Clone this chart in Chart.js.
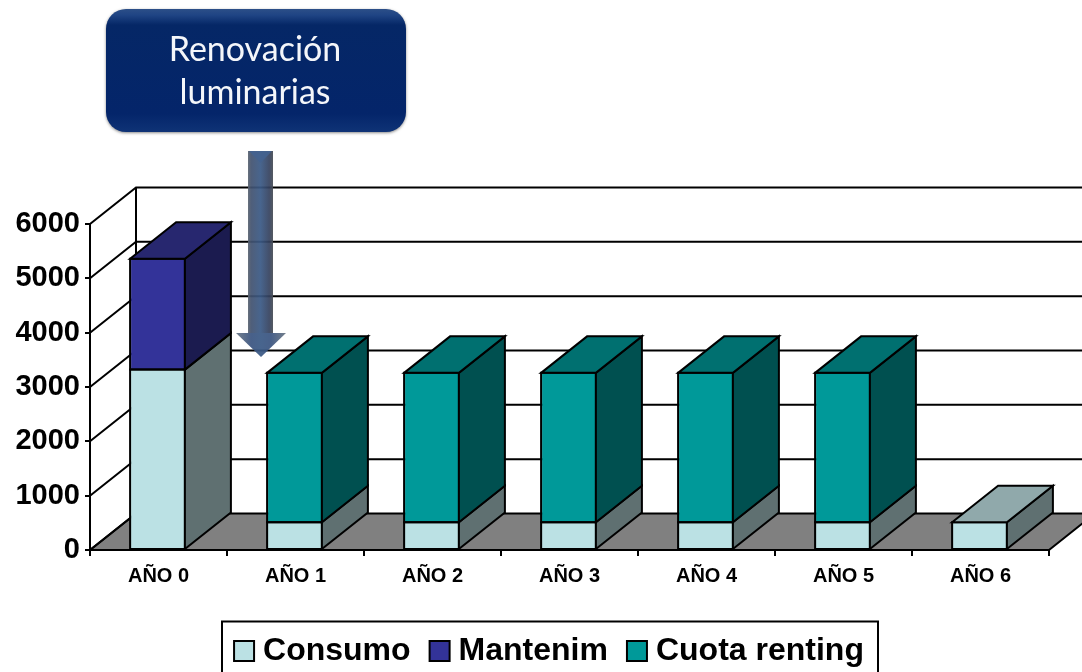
<!DOCTYPE html>
<html>
<head>
<meta charset="utf-8">
<script src="https://cdn.jsdelivr.net/npm/chart.js@4/dist/chart.umd.min.js"></script>
<style>
  html, body { margin: 0; padding: 0; background: #fff; overflow: hidden; }
  canvas { display: block; }
</style>
</head>
<body>
<canvas id="chart" width="1082" height="672"></canvas>
<script>
var years = ['AÑO 0', 'AÑO 1', 'AÑO 2', 'AÑO 3', 'AÑO 4', 'AÑO 5', 'AÑO 6'];
var consumo = [3320, 510, 510, 510, 510, 510, 510];
var mantenim = [2040, 0, 0, 0, 0, 0, 0];
var cuota = [0, 2750, 2750, 2750, 2750, 2750, 0];
var yTicks = [0, 1000, 2000, 3000, 4000, 5000, 6000];
var calloutLines = ['Renovación', 'luminarias'];

var DEPTH_X = 46;
var DEPTH_Y = -36.5;
var faces = [
  { side: '#5f7071', top: '#90a9ab' },
  { side: '#1b1b4f', top: '#27276f' },
  { side: '#005050', top: '#007070' }
];

function poly(ctx, pts, fill) {
  ctx.beginPath();
  pts.forEach(function (p, i) {
    if (i == 0) ctx.moveTo(p[0], p[1]); else ctx.lineTo(p[0], p[1]);
  });
  ctx.closePath();
  if (fill) { ctx.fillStyle = fill; ctx.fill(); }
  ctx.stroke();
}

// back wall, left wall and floor of the 3d box
var walls = {
  id: 'walls',
  beforeDatasetsDraw: function (chart) {
    var ctx = chart.ctx, area = chart.chartArea, y = chart.scales.y;
    var W = chart.width;
    var left = area.left, right = area.right, base = y.getPixelForValue(0);
    ctx.save();
    ctx.strokeStyle = '#000';
    ctx.lineWidth = 2;
    poly(ctx, [[left, base], [left + DEPTH_X, base + DEPTH_Y], [W + 5, base + DEPTH_Y],
      [W + 5, base + (W + 5 - right) * DEPTH_Y / DEPTH_X], [right, base]], '#808080');
    yTicks.forEach(function (t) {
      var py = y.getPixelForValue(t);
      ctx.beginPath();
      ctx.moveTo(left, py);
      ctx.lineTo(left + DEPTH_X, py + DEPTH_Y);
      if (t > 0) ctx.lineTo(W, py + DEPTH_Y);
      ctx.stroke();
    });
    ctx.beginPath();
    ctx.moveTo(left + DEPTH_X, y.getPixelForValue(6000) + DEPTH_Y);
    ctx.lineTo(left + DEPTH_X, base + DEPTH_Y);
    ctx.stroke();
    ctx.restore();
  }
};

// outline, side and top faces of every bar segment
var bars3d = {
  id: 'bars3d',
  afterDatasetsDraw: function (chart) {
    var ctx = chart.ctx;
    var sets = chart.data.datasets;
    ctx.save();
    ctx.strokeStyle = '#000';
    ctx.lineWidth = 2;
    ctx.lineJoin = 'miter';
    years.forEach(function (yr, j) {
      sets.forEach(function (ds, i) {
        if (!ds.data[j]) return;
        var b = chart.getDatasetMeta(i).data[j];
        var l = b.x - b.width / 2 - 1, r = b.x + b.width / 2 - 1;
        poly(ctx, [[l, b.base], [l, b.y], [r, b.y], [r, b.base]]);
        poly(ctx, [[r, b.base], [r + DEPTH_X, b.base + DEPTH_Y], [r + DEPTH_X, b.y + DEPTH_Y], [r, b.y]], faces[i].side);
        var covered = sets.slice(i + 1).some(function (up) { return up.data[j] > 0; });
        if (!covered) {
          poly(ctx, [[l, b.y], [l + DEPTH_X, b.y + DEPTH_Y], [r + DEPTH_X, b.y + DEPTH_Y], [r, b.y]], faces[i].top);
        }
      });
    });
    ctx.restore();
  }
};

// legend sits lower than chart.js would put it, with a frame round it
var legendBox = {
  id: 'legendBox',
  afterLayout: function (chart) {
    var lg = chart.legend;
    lg.left += 28;
    lg.right += 28;
    lg.top = 609;
    lg.bottom = 699;
    lg.adjustHitBoxes();
  },
  afterDraw: function (chart) {
    var ctx = chart.ctx;
    ctx.save();
    ctx.strokeStyle = '#000';
    ctx.lineWidth = 2;
    ctx.strokeRect(222, 621.5, 656, 54);
    ctx.restore();
  }
};

// the arrow and the rounded callout above the chart
var callout = {
  id: 'callout',
  afterDraw: function (chart) {
    var ctx = chart.ctx;
    ctx.save();

    var sg = ctx.createLinearGradient(248, 0, 273, 0);
    sg.addColorStop(0, '#5d6672');
    sg.addColorStop(0.12, '#42526f');
    sg.addColorStop(0.5, '#3a5985');
    sg.addColorStop(0.85, '#35425f');
    sg.addColorStop(1, '#484d55');
    ctx.globalAlpha = 0.93;
    ctx.fillStyle = sg;
    ctx.fillRect(248, 151, 25, 182);
    ctx.fillStyle = '#44628f';
    ctx.beginPath();
    ctx.moveTo(249, 151);
    ctx.lineTo(272, 151);
    ctx.lineTo(260.5, 163);
    ctx.closePath();
    ctx.fill();
    var hg = ctx.createLinearGradient(236, 0, 286, 0);
    hg.addColorStop(0, '#6a7684');
    hg.addColorStop(0.3, '#3a5480');
    hg.addColorStop(0.5, '#3a5985');
    hg.addColorStop(0.7, '#3a5480');
    hg.addColorStop(1, '#6a7684');
    ctx.fillStyle = hg;
    ctx.beginPath();
    ctx.moveTo(236, 333);
    ctx.lineTo(286, 333);
    ctx.lineTo(261, 357);
    ctx.closePath();
    ctx.fill();
    ctx.globalAlpha = 1;

    ctx.save();
    ctx.shadowColor = 'rgba(60,60,60,0.6)';
    ctx.shadowBlur = 3;
    ctx.shadowOffsetY = 1;
    var bg = ctx.createLinearGradient(0, 9, 0, 132);
    bg.addColorStop(0, '#2c4f88');
    bg.addColorStop(0.05, '#1f4484');
    bg.addColorStop(0.13, '#052766');
    bg.addColorStop(0.85, '#04256a');
    bg.addColorStop(1, '#0f3376');
    ctx.fillStyle = bg;
    ctx.beginPath();
    ctx.roundRect(106, 9, 300, 123, 20);
    ctx.fill();
    ctx.restore();

    ctx.fillStyle = '#f4f6fa';
    ctx.font = '34px Lato';
    ctx.textAlign = 'center';
    ctx.textBaseline = 'middle';
    ctx.fillText(calloutLines[0], 255, 50);
    ctx.fillText(calloutLines[1], 255, 93);
    ctx.restore();
  }
};

new Chart(document.getElementById('chart'), {
  type: 'bar',
  data: {
    labels: years,
    datasets: [
      { label: 'Consumo', data: consumo, backgroundColor: '#bbe1e4' },
      { label: 'Mantenim', data: mantenim, backgroundColor: '#333399' },
      { label: 'Cuota renting', data: cuota, backgroundColor: '#009999' }
    ]
  },
  plugins: [walls, bars3d, legendBox, callout],
  options: {
    responsive: false,
    animation: false,
    layout: { padding: { top: 224, right: 33 } },
    datasets: { bar: { barPercentage: 0.4, categoryPercentage: 1 } },
    plugins: {
      tooltip: { enabled: false },
      legend: {
        position: 'bottom',
        labels: {
          color: '#000',
          font: { family: 'Liberation Sans', size: 32, weight: 'bold' },
          usePointStyle: true,
          pointStyle: 'rect',
          boxWidth: 6,
          boxHeight: 20,
          padding: 26,
          generateLabels: function (chart) {
            return chart.data.datasets.map(function (ds, i) {
              return { text: ds.label, fillStyle: ds.backgroundColor, strokeStyle: '#000', lineWidth: 2, pointStyle: 'rect', datasetIndex: i };
            });
          }
        }
      }
    },
    scales: {
      x: {
        stacked: true,
        afterFit: function (s) { s.height = 54; },
        border: { color: '#000', width: 2 },
        grid: { drawOnChartArea: false, color: '#000', lineWidth: 2, tickLength: 6, offset: true },
        ticks: {
          color: '#000',
          padding: 8,
          maxRotation: 0,
          autoSkip: false,
          font: { family: 'Liberation Sans', size: 20, weight: 'bold' }
        }
      },
      y: {
        stacked: true,
        min: 0,
        max: 6000,
        afterFit: function (s) { s.width = 90; },
        afterBuildTicks: function (s) { s.ticks = yTicks.map(function (v) { return { value: v }; }); },
        border: { color: '#000', width: 2 },
        grid: { drawOnChartArea: false, color: '#000', lineWidth: 2, tickLength: 5 },
        ticks: {
          color: '#000',
          padding: 5,
          font: { family: 'Liberation Sans', size: 29, weight: 'bold' },
          callback: function (v) { return String(v); }
        }
      }
    }
  }
});
</script>
</body>
</html>
